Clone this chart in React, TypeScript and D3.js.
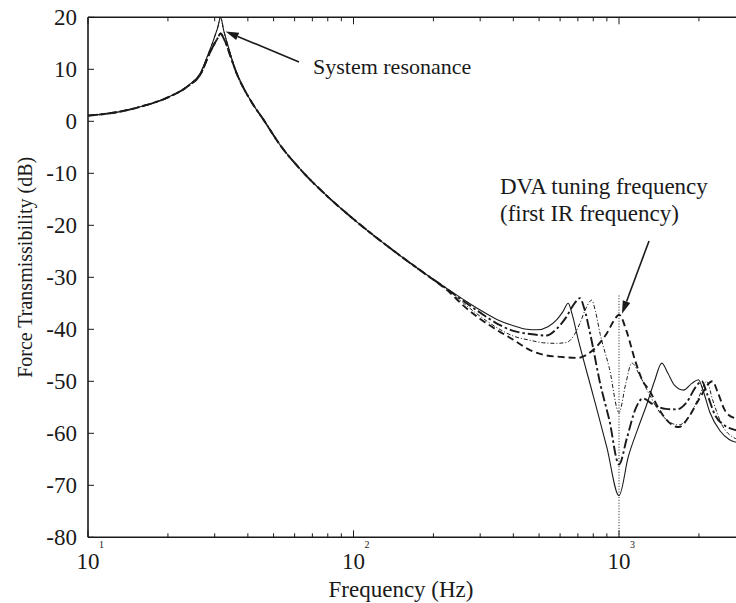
import React from "react";
import * as d3 from "d3";

// ---------- data ----------
const lowFreq = [10, 13, 16, 20, 24, 26.5, 28.5, 29.3, 30, 30.8, 31.6, 32.4, 33.2, 34, 34.8, 36.3, 37.9, 40, 42.5, 45, 53.5, 63.5, 80, 101, 135, 180];
const lowDbHigh = [1.1, 1.8, 2.9, 4.6, 7.0, 9.3, 13.2, 14.8, 16.3, 18.0, 20, 17.6, 15.6, 13.8, 12.0, 9.3, 7.2, 4.9, 2.7, 0.9, -4.9, -9.4, -14.5, -19, -24.1, -28.8];
const lowDbLow = [1.1, 1.8, 2.9, 4.6, 6.9, 9.0, 12.7, 14.0, 15.0, 16.0, 16.9, 16.0, 14.8, 13.3, 11.8, 9.2, 7.1, 4.9, 2.7, 0.9, -4.9, -9.4, -14.5, -19, -24.1, -28.8];

const solidFreq = [230, 260, 300, 350, 400, 450, 490, 540, 582, 615, 644, 665, 700, 800, 900, 1000, 1084, 1180, 1271, 1360, 1449, 1530, 1620, 1750, 1880, 1990, 2080, 2200, 2400, 2600, 2800, 3000];
const solidDb = [-32.5, -34.3, -36.3, -38.2, -39.3, -40.0, -40.1, -39.5, -38.2, -36.6, -35, -37, -41.7, -52.8, -62.7, -72, -64.5, -59, -54.5, -50, -46.5, -48.5, -50.8, -51.7, -50.4, -49.7, -52, -56, -59.5, -61.2, -61.8, -62];

const dashDotFreq = [230, 260, 300, 350, 400, 462, 533, 580, 630, 680, 713, 740, 780, 850, 920, 1000, 1070, 1150, 1230, 1350, 1500, 1650, 1800, 1950, 2050, 2150, 2300, 2500, 2800, 3000];
const dashDotDb = [-32.6, -34.6, -36.8, -39.0, -40.3, -40.9, -41.2, -40.0, -37.8, -35.0, -34.0, -36, -41, -50.5, -57.5, -66, -61, -55.5, -53.3, -54.5, -55.3, -55.4, -54, -51, -50, -52.5, -56.5, -58.5, -59.5, -60];

const thinDashDotFreq = [230, 260, 300, 350, 400, 462, 520, 582, 636, 680, 713, 750, 789, 815, 850, 920, 1000, 1060, 1117, 1200, 1300, 1450, 1680, 1850, 2000, 2140, 2250, 2450, 2700, 3000];
const thinDashDotDb = [-32.7, -35, -37.5, -39.8, -41.3, -42.1, -42.6, -42.7, -42.5, -41, -38.8, -36, -34.4, -36.5, -41, -47.5, -56, -50.5, -46.5, -49, -52.5, -56.5, -58.4, -56.5, -53, -50, -53.5, -58.5, -60.8, -61.5];

const dashedFreq = [230, 260, 300, 346, 400, 462, 530, 600, 700, 760, 824, 899, 960, 1000, 1070, 1150, 1230, 1300, 1420, 1550, 1680, 1850, 2000, 2250, 2350, 2500, 2700, 3000];
const dashedDb = [-32.9, -35.5, -38, -40.1, -42, -44, -45, -45.3, -45.5, -44.8, -43.3, -40.8, -38.2, -37.2, -40.5, -46, -50, -51.7, -55.5, -58, -58.8, -56.5, -53.5, -50, -52, -55.5, -57, -57.4];

const yTicks = [20, 10, 0, -10, -20, -30, -40, -50, -60, -70, -80];
const xDecades = [10, 100, 1000];
const xDecadeExp = ["1", "2", "3"];
const tuningFreq = 1000;

// ---------- layout ----------
const W = 736;
const H = 603;
const left = 88;
const top = 17.3;
const bottom = 537.3;
const decadePx = 265.5;

const FONT = "'Liberation Serif', 'Times New Roman', serif";
const INK = "#1a1a1a";

type Pt = [number, number];

function zip(f: number[], d: number[]): Pt[] {
  return f.map((v, i) => [v, d[i]] as Pt);
}

export default function App() {
  const x = d3
    .scaleLog()
    .domain([10, 3000])
    .range([left, left + decadePx * Math.log10(300)]);
  const y = d3.scaleLinear().domain([-80, 20]).range([bottom, top]);
  const right = x(3000);

  const line = d3
    .line<Pt>()
    .x((p) => x(p[0]))
    .y((p) => y(p[1]))
    .curve(d3.curveMonotoneX);

  const lowHigh = zip(lowFreq, lowDbHigh);
  const lowLow = zip(lowFreq, lowDbLow);

  const series = [
    { pts: lowHigh.concat(zip(solidFreq, solidDb)), w: 1.1, dash: "none" },
    { pts: lowHigh.concat(zip(thinDashDotFreq, thinDashDotDb)), w: 1.0, dash: "4,2,1,2" },
    { pts: lowLow.concat(zip(dashDotFreq, dashDotDb)), w: 1.9, dash: "10,3,2.5,3" },
    { pts: lowLow.concat(zip(dashedFreq, dashedDb)), w: 1.9, dash: "7,4" },
  ];

  const minorTicks: number[] = [];
  for (const dec of xDecades) {
    for (let k = 2; k <= 9; k++) {
      const v = dec * k;
      if (v <= 3000) minorTicks.push(v);
    }
  }

  const arrow = (x1: number, y1: number, x2: number, y2: number, key: string) => {
    const ang = Math.atan2(y2 - y1, x2 - x1);
    const L = 13;
    const Wd = 4;
    const bx = x2 - L * Math.cos(ang);
    const by = y2 - L * Math.sin(ang);
    const px = -Math.sin(ang) * Wd;
    const py = Math.cos(ang) * Wd;
    return (
      <g key={key}>
        <line x1={x1} y1={y1} x2={bx} y2={by} stroke={INK} strokeWidth={1.6} />
        <path d={`M${x2},${y2}L${bx + px},${by + py}L${bx - px},${by - py}Z`} fill={INK} />
      </g>
    );
  };

  return (
    <div style={{ position: "fixed", left: 0, top: 0 }}>
      <svg width={W} height={H} style={{ display: "block", background: "#fff" }}>
        <defs>
          <clipPath id="plotClip">
            <rect x={left} y={top - 2} width={right - left} height={bottom - top + 4} />
          </clipPath>
        </defs>

        {/* curves */}
        <g clipPath="url(#plotClip)" fill="none" stroke={INK} strokeLinejoin="round">
          {series.map((s, i) => (
            <path key={i} d={line(s.pts) || ""} strokeWidth={s.w} strokeDasharray={s.dash} />
          ))}
          <line
            x1={x(tuningFreq)}
            x2={x(tuningFreq)}
            y1={y(-33.5)}
            y2={y(-80)}
            strokeWidth={1}
            strokeDasharray="1,1.8"
          />
        </g>

        {/* axes frame */}
        <g stroke={INK} strokeWidth={1.6} fill="none">
          <line x1={left} y1={top} x2={right} y2={top} />
          <line x1={left} y1={bottom} x2={right} y2={bottom} />
          <line x1={left} y1={top} x2={left} y2={bottom} />
        </g>

        {/* x ticks */}
        <g stroke={INK} strokeWidth={1}>
          {minorTicks.map((v) => (
            <g key={v}>
              <line x1={x(v)} x2={x(v)} y1={bottom} y2={bottom - 4} />
              <line x1={x(v)} x2={x(v)} y1={top} y2={top + 4} />
            </g>
          ))}
          {xDecades.map((v) => (
            <g key={v}>
              <line x1={x(v)} x2={x(v)} y1={bottom} y2={bottom - 7} />
              <line x1={x(v)} x2={x(v)} y1={top} y2={top + 7} />
            </g>
          ))}
        </g>

        {/* y ticks */}
        <g stroke={INK} strokeWidth={1}>
          {yTicks.map((v) => (
            <line key={v} x1={left} x2={left + 6} y1={y(v)} y2={y(v)} />
          ))}
        </g>

        {/* y tick labels */}
        <g fontFamily={FONT} fontSize={23} fill={INK} textAnchor="end">
          {yTicks.map((v) => (
            <text key={v} x={77} y={y(v)} dy="0.35em">
              {String(v)}
            </text>
          ))}
        </g>

        {/* x tick labels */}
        <g fontFamily={FONT} fill={INK}>
          {xDecades.map((v, i) => (
            <g key={v}>
              <text x={x(v)} y={569} fontSize={23} textAnchor="middle">
                10
              </text>
              <text x={x(v) + 11} y={548} fontSize={10}>
                {xDecadeExp[i]}
              </text>
            </g>
          ))}
        </g>

        {/* axis titles */}
        <text x={401} y={597} fontFamily={FONT} fontSize={23} fill={INK} textAnchor="middle">
          Frequency (Hz)
        </text>
        <text
          transform={`translate(32,${(top + bottom) / 2 - 10}) rotate(-90)`}
          fontFamily={FONT}
          fontSize={20}
          fill={INK}
          textAnchor="middle"
        >
          Force Transmissibility (dB)
        </text>

        {/* annotations */}
        {arrow(299, 62, x(31.6) + 5, y(16.9) - 2, "a1")}
        <text x={313} y={74} fontFamily={FONT} fontSize={22} fill={INK}>
          System resonance
        </text>
        {arrow(649, 241, x(tuningFreq) + 3, y(-37.2) - 1, "a2")}
        <text fontFamily={FONT} fontSize={23} fill={INK}>
          <tspan x={500} y={194}>DVA tuning frequency</tspan>
          <tspan x={500} y={221}>(first IR frequency)</tspan>
        </text>
      </svg>
    </div>
  );
}
